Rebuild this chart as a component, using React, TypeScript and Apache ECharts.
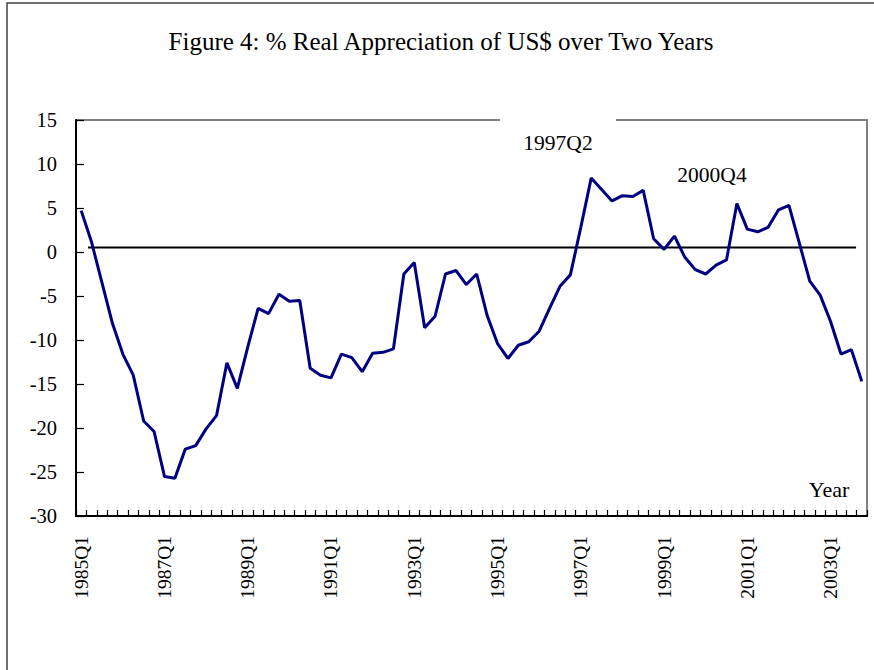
import React, { useEffect, useRef } from "react";
import * as echarts from "echarts";

const years: number[] = [1985, 1986, 1987, 1988, 1989, 1990, 1991, 1992, 1993, 1994, 1995, 1996, 1997, 1998, 1999, 2000, 2001, 2002, 2003];
const quarters: string[] = ["Q1", "Q2", "Q3", "Q4"];
const categories: string[] = years.flatMap((y) => quarters.map((q) => `${y}${q}`));

const appreciation: number[] = [
  4.7, 1.1, -3.5, -8.1, -11.6, -14.0, -19.2, -20.4, -25.5, -25.7,
  -22.4, -22.0, -20.1, -18.6, -12.6, -15.5, -10.8, -6.4, -7.0, -4.8,
  -5.6, -5.5, -13.2, -14.0, -14.3, -11.6, -12.0, -13.6, -11.5, -11.4,
  -11.0, -2.5, -1.2, -8.6, -7.3, -2.5, -2.1, -3.7, -2.5, -7.2,
  -10.4, -12.1, -10.6, -10.2, -9.0, -6.4, -3.9, -2.6, 2.8, 8.4,
  7.1, 5.8, 6.4, 6.3, 7.0, 1.5, 0.3, 1.8, -0.6, -2.0,
  -2.5, -1.5, -0.9, 5.5, 2.6, 2.3, 2.8, 4.8, 5.3, 1.0,
  -3.3, -4.9, -7.9, -11.6, -11.1, -14.7,
];

// reference line (drawn by hand in the original): x in quarter-index units
const refLineX: number[] = [0.65, 74.45];
const refLineValue = 0.5;

const yTicks = { min: -30, max: 15, interval: 5 };

const titleText = "Figure 4: % Real Appreciation of US$ over Two Years";
const annotations: { text: string; x: number; y: number; size: number }[] = [
  { text: "1997Q2", x: 558, y: 143, size: 21.5 },
  { text: "2000Q4", x: 712, y: 175, size: 21.5 },
  { text: "Year", x: 829, y: 489, size: 22 },
];

const FONT = "'Liberation Serif', 'Times New Roman', serif";

export default function App() {
  const ref = useRef<HTMLDivElement>(null);

  useEffect(() => {
    document.body.style.margin = "0";
    if (!ref.current) return;
    const chart = echarts.init(ref.current, undefined, { renderer: "svg" });

    const textEl = (text: string, x: number, y: number, size: number) => ({
      type: "text",
      x,
      y,
      z: 100,
      style: {
        text,
        fontSize: size,
        fontFamily: FONT,
        fill: "#000",
        align: "center",
        verticalAlign: "middle",
        textAlign: "center",
        textVerticalAlign: "middle",
      },
    });

    chart.setOption({
      animation: false,
      backgroundColor: "#fff",
      grid: {
        left: 76,
        right: 7,
        top: 120,
        bottom: 154,
        show: true,
        borderColor: "#808080",
        borderWidth: 2,
        backgroundColor: "transparent",
      },
      xAxis: [
        {
          type: "category",
          data: categories,
          boundaryGap: true,
          axisLine: { show: true, onZero: false, lineStyle: { color: "#000", width: 2 } },
          axisTick: { show: true, interval: 0, inside: true, length: 6, lineStyle: { color: "#000", width: 1.2 } },
          axisLabel: {
            interval: 7,
            rotate: 90,
            margin: 20,
            fontSize: 19.5,
            fontFamily: FONT,
            color: "#000",
          },
          splitLine: { show: false },
        },
        {
          type: "value",
          min: -0.5,
          max: categories.length - 0.5,
          show: false,
          position: "top",
          axisLine: { onZero: false },
        },
      ],
      yAxis: {
        type: "value",
        min: yTicks.min,
        max: yTicks.max,
        interval: yTicks.interval,
        axisLine: { show: true, onZero: false, lineStyle: { color: "#000", width: 2 } },
        axisTick: { show: true, inside: true, length: 8, lineStyle: { color: "#000", width: 1.2 } },
        axisLabel: { margin: 19, fontSize: 20.5, fontFamily: FONT, color: "#000" },
        splitLine: { show: false },
      },
      series: [
        {
          type: "line",
          xAxisIndex: 1,
          data: refLineX.map((x) => [x, refLineValue]),
          symbol: "none",
          lineStyle: { color: "#000", width: 2 },
          z: 2,
        },
        {
          type: "line",
          xAxisIndex: 0,
          data: appreciation,
          symbol: "none",
          lineStyle: { color: "#000080", width: 3 },
          z: 3,
        },
      ],
      graphic: [
        {
          type: "rect",
          shape: { x: 7, y: 3, width: 900, height: 700 },
          style: { fill: "none", stroke: "#404040", lineWidth: 1.5 },
          z: 0,
          silent: true,
        },
        {
          type: "rect",
          shape: { x: 500, y: 116, width: 116, height: 8 },
          style: { fill: "#fff" },
          z: 90,
          silent: true,
        },
        textEl(titleText, 441, 41, 25),
        ...annotations.map((a) => textEl(a.text, a.x, a.y, a.size)),
      ],
    });

    return () => chart.dispose();
  }, []);

  return <div ref={ref} style={{ width: 874, height: 670 }} />;
}
